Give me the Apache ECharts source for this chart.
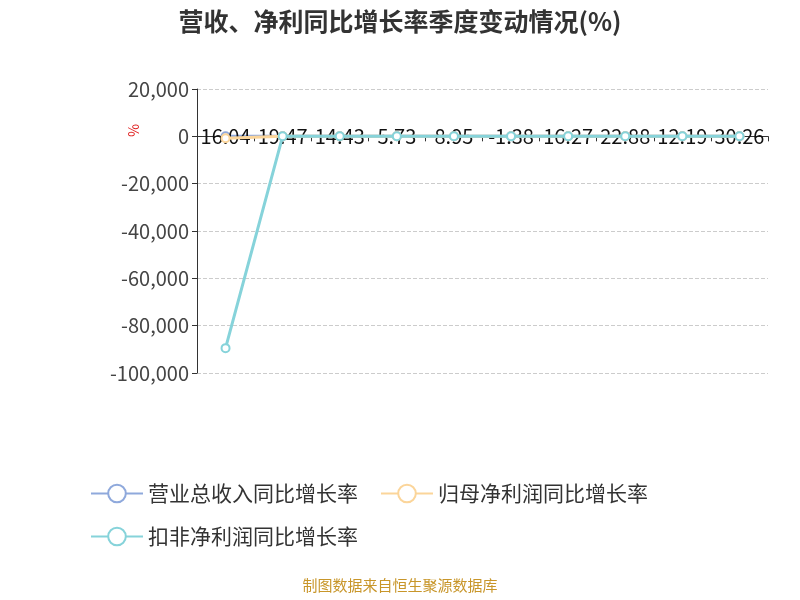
<!DOCTYPE html>
<html>
<head>
<meta charset="utf-8">
<script src="https://cdn.jsdelivr.net/npm/echarts@6/dist/echarts.min.js"></script>
<style>html,body{margin:0;padding:0;}#chart{width:800px;height:600px;}</style>
</head>
<body>
<div id="chart"></div>
<script>
// 季度与三条同比增长率
var quarters = ['2023Q1', '2023Q2', '2023Q3', '2023Q4', '2024Q1', '2024Q2', '2024Q3', '2024Q4', '2025Q1', '2025Q2'];
var revenueYoy = [16.04, 19.47, 14.43, 5.73, 8.95, -1.38, 16.27, 22.88, 12.19, 30.26];
var netProfitYoy = [-800, 20, 15, 10, 12, 5, 18, 25, 14, 28];
var deductedYoy = [-89500, 25, 18, 8, 10, -3, 20, 30, 15, 35];
var yTicks = [-100000, 20000];

var chart = echarts.init(document.getElementById('chart'));
var font = 'Noto Sans CJK SC';

chart.setOption({
    backgroundColor: '#ffffff',
    textStyle: { fontFamily: font },
    title: {
        text: '营收、净利同比增长率季度变动情况(%)',
        left: 'center',
        top: 4,
        textStyle: { fontSize: 25, fontWeight: 'bold', color: '#333', fontFamily: font }
    },
    graphic: [{
        type: 'text',
        left: 126,
        top: 124,
        rotation: -Math.PI / 2,
        style: { text: '%', fill: '#e02020', fontSize: 14, fontFamily: font }
    }, {
        type: 'text',
        left: 'center',
        top: 578,
        style: { text: '制图数据来自恒生聚源数据库', fill: '#c8962a', fontSize: 15, fontFamily: font }
    }],
    legend: {
        left: 85,
        top: 478,
        width: 680,
        itemWidth: 52,
        itemHeight: 22,
        itemGap: 22,
        textStyle: { fontSize: 21, color: '#333' },
        data: ['营业总收入同比增长率', '归母净利润同比增长率', '扣非净利润同比增长率']
    },
    grid: { left: 197, right: 32, top: 89, bottom: 227, outerBoundsMode: 'none', containLabel: false },
    xAxis: {
        type: 'category',
        data: quarters,
        boundaryGap: true,
        axisLine: { onZero: true, lineStyle: { color: '#333' } },
        axisTick: { show: true, lineStyle: { color: '#333' } },
        axisLabel: { rotate: 60, fontSize: 20, color: '#333', interval: 0, margin: 245 }
    },
    yAxis: {
        type: 'value',
        min: yTicks[0],
        max: yTicks[1],
        interval: 20000,
        axisLine: { show: true, lineStyle: { color: '#333' } },
        axisTick: { show: true },
        axisLabel: { fontSize: 20, color: '#444' },
        splitLine: { lineStyle: { type: 'dashed', color: '#ccc' } }
    },
    series: [{
        name: '营业总收入同比增长率',
        type: 'line',
        data: revenueYoy,
        symbol: 'emptyCircle',
        symbolSize: 8,
        itemStyle: { color: '#8fa9dc' },
        lineStyle: { width: 3, color: '#8fa9dc' },
        label: { show: true, position: 'inside', fontSize: 20, color: '#111' },
        z: 2
    }, {
        name: '归母净利润同比增长率',
        type: 'line',
        data: netProfitYoy,
        symbol: 'emptyCircle',
        symbolSize: 8,
        itemStyle: { color: '#fbd59a' },
        lineStyle: { width: 3, color: '#fbd59a' },
        z: 3
    }, {
        name: '扣非净利润同比增长率',
        type: 'line',
        data: deductedYoy,
        symbol: 'emptyCircle',
        symbolSize: 8,
        itemStyle: { color: '#86d3da' },
        lineStyle: { width: 3, color: '#86d3da' },
        z: 4
    }]
});
</script>
</body>
</html>
